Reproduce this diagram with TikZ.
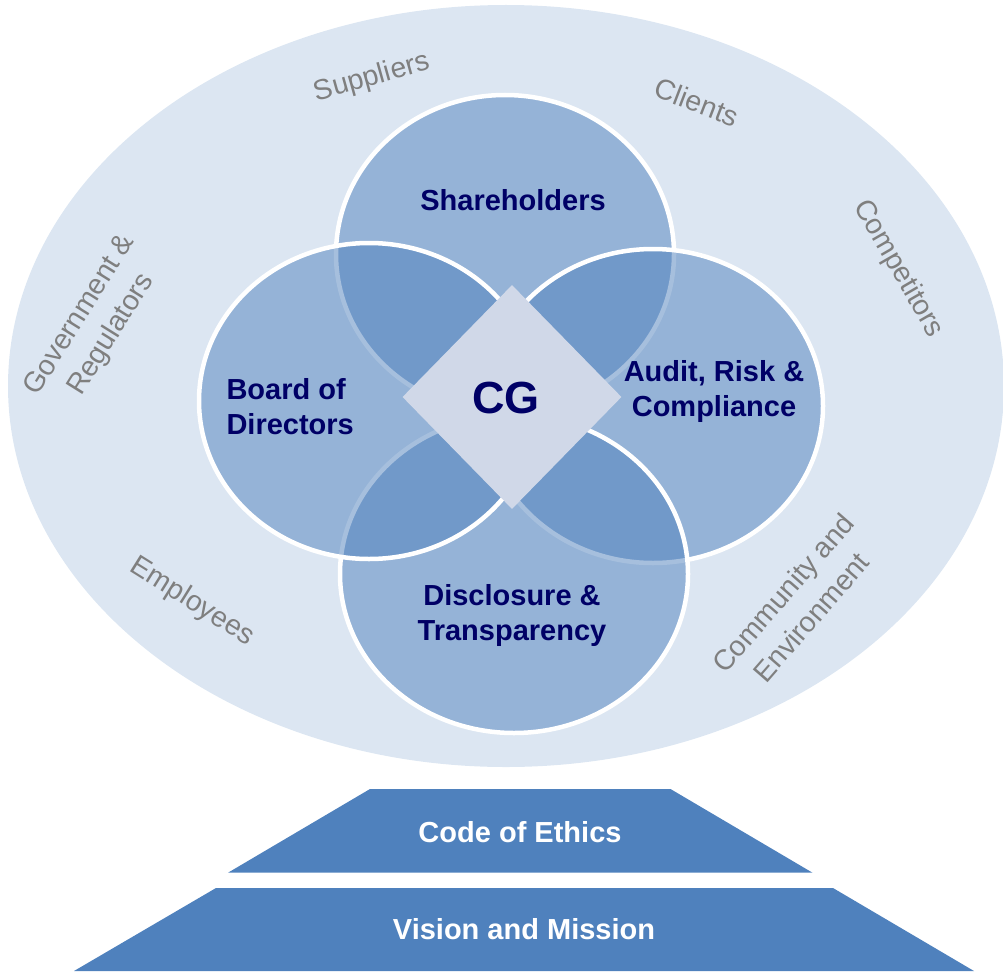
\documentclass[tikz,border=0pt]{standalone}
\usepackage{fontspec}
\setmainfont{Liberation Sans}
\usetikzlibrary{shapes.geometric}
\definecolor{bgblue}{HTML}{DCE6F2}
\definecolor{cblue}{HTML}{4F81BD}
\definecolor{diafill}{HTML}{D0D8E8}
\definecolor{navytext}{HTML}{000066}
\definecolor{graytext}{HTML}{7F7F7F}
\begin{document}
\begin{tikzpicture}[x=1pt,y=-1pt,
  circ/.style={ellipse, draw=white, line width=4.5pt, fill=cblue, fill opacity=0.5, draw opacity=1, inner sep=0pt},
  lab/.style={text=navytext, font=\fontsize{29}{35}\selectfont\bfseries, align=center},
  outerlab/.style={text=graytext, font=\fontsize{28.5}{37}\selectfont, align=center},
  baselab/.style={text=white, font=\fontsize{29}{35}\selectfont\bfseries}]
\useasboundingbox (0,0) rectangle (1003,971);
% outer ellipse
\node[ellipse, fill=bgblue, minimum width=996pt, minimum height=762pt, inner sep=0pt] (env) at (506,386) {};
% four overlapping ellipses
\node[circ, minimum width=338pt, minimum height=318pt] (sh) at (505,254) {};
\node[circ, minimum width=340pt, minimum height=314pt] (au) at (653,406) {};
\node[circ, minimum width=348pt, minimum height=318pt] (di) at (514,574) {};
\node[circ, minimum width=340pt, minimum height=316pt] (bo) at (369,401) {};
% diamond
\node[diamond, fill=diafill, minimum width=219pt, minimum height=224pt, inner sep=0pt] (cg) at (512,397) {};
\node[text=navytext, font=\fontsize{45}{50}\selectfont\bfseries] (cgt) at (506,398) {CG};
% circle labels
\node[lab] (shl) at (513,200) {Shareholders};
\node[lab, align=left, anchor=west] (bol) at (223,407) {Board of\\Directors};
\node[lab] (aul) at (714,391) {Audit, Risk \&\\Compliance};
\node[lab] (dil) at (512,615) {Disclosure \&\\Transparency};
% outer labels
\node[outerlab, rotate=15.6] (sup) at (372,78) {Suppliers};
\node[outerlab, rotate=-21] (cli) at (697,102) {Clients};
\node[outerlab, rotate=-60] (com) at (898,269) {Competitors};
\node[outerlab, rotate=58] (gov) at (96,325) {Government \&\\Regulators};
\node[outerlab, rotate=-32] (emp) at (192,602) {Employees};
\node[outerlab, rotate=49] (cen) at (797,605) {Community and\\Environment};
% base trapezoids
\fill[cblue] (370,789) -- (670.5,789) -- (812.5,872.7) -- (228,872.7) -- cycle;
\fill[cblue] (216,888) -- (833,888) -- (974,971) -- (74,971) -- cycle;
\node[baselab] (coe) at (520,832) {Code of Ethics};
\node[baselab] (vm) at (524,929) {Vision and Mission};
\end{tikzpicture}
\end{document}
